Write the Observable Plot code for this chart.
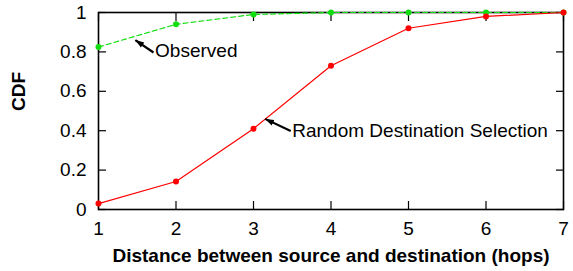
<!DOCTYPE html>
<html>
<head>
<meta charset="utf-8">
<script src="https://cdn.jsdelivr.net/npm/d3@7"></script>
<script src="https://cdn.jsdelivr.net/npm/@observablehq/plot@0.6"></script>
<style>
  html, body { margin: 0; padding: 0; background: #fff; }
  svg { display: block; }
</style>
</head>
<body>
<div id="chart"></div>
<script>
const hops = [1, 2, 3, 4, 5, 6, 7];
const observed = [0.825, 0.94, 0.99, 1.0, 1.0, 1.0, 1.0];
const randomSel = [0.03, 0.142, 0.41, 0.73, 0.92, 0.98, 1.0];
const xTicks = [1, 2, 3, 4, 5, 6, 7];
const yTicks = [0, 0.2, 0.4, 0.6, 0.8, 1];

const labelNames = ["Observed", "Random Destination Selection"];
const labelX = [1.73, 3.5];
const labelY = [0.805, 0.40];
const arrowFromX = [1.71, 3.48];
const arrowFromY = [0.797, 0.398];
const arrowToX = [1.475, 3.15];
const arrowToY = [0.86, 0.46];

const obsData = hops.map((h, i) => ({x: h, y: observed[i]}));
const rndData = hops.map((h, i) => ({x: h, y: randomSel[i]}));
const labels = labelNames.map((t, i) => ({text: t, x: labelX[i], y: labelY[i]}));
const arrows = labelNames.map((t, i) => ({x1: arrowFromX[i], y1: arrowFromY[i], x2: arrowToX[i], y2: arrowToY[i]}));

const green = "#11dd11";
const red = "#ff0000";

function filledHead(color, context) {
  const ns = "http://www.w3.org/2000/svg";
  const doc = (context && context.document) || document;
  const m = doc.createElementNS(ns, "marker");
  m.setAttribute("viewBox", "-10 -5 10 10");
  m.setAttribute("markerWidth", 4);
  m.setAttribute("markerHeight", 4);
  m.setAttribute("orient", "auto");
  m.setAttribute("fill", color);
  m.setAttribute("stroke", "none");
  const p = doc.createElementNS(ns, "path");
  p.setAttribute("d", "M-10,-3.5L0,0L-10,3.5Z");
  m.appendChild(p);
  return m;
}

const fmt = d => String(d);

const chart = Plot.plot({
  width: 573,
  height: 271,
  marginLeft: 98,
  marginRight: 10,
  marginTop: 12,
  marginBottom: 62,
  style: {fontFamily: "'Liberation Sans', Arial, sans-serif", fontSize: "19px", color: "#000", background: "#fff"},
  x: {domain: [1, 7]},
  y: {domain: [0, 1]},
  marks: [
    Plot.axisX({ticks: xTicks, tickFormat: fmt, tickSize: -8, tickPadding: 20, fontSize: 19, label: null, strokeWidth: 1.2}),
    Plot.axisX({ticks: xTicks, anchor: "top", tickSize: -8, text: null, label: null, strokeWidth: 1.2}),
    Plot.axisY({ticks: yTicks, tickFormat: fmt, tickSize: -8, tickPadding: 20, fontSize: 19, label: null, strokeWidth: 1.2}),
    Plot.axisY({ticks: yTicks, anchor: "right", tickSize: -8, text: null, label: null, strokeWidth: 1.2}),
    Plot.text(["Distance between source and destination (hops)"], {frameAnchor: "bottom", dy: 52, fontWeight: "bold", fontSize: 19}),
    Plot.text(["CDF"], {frameAnchor: "left", dx: -80, rotate: -90, fontWeight: "bold", fontSize: 19}),
    Plot.frame({stroke: "#000", strokeWidth: 1.6}),
    Plot.line(obsData, {x: "x", y: "y", stroke: green, strokeWidth: 1.2, strokeDasharray: "5,3"}),
    Plot.dot(obsData, {x: "x", y: "y", fill: green, r: 3}),
    Plot.line(rndData, {x: "x", y: "y", stroke: red, strokeWidth: 1.2}),
    Plot.dot(rndData, {x: "x", y: "y", fill: red, r: 3}),
    Plot.link(arrows, {x1: "x1", y1: "y1", x2: "x2", y2: "y2", stroke: "#000", strokeWidth: 2.2, markerEnd: filledHead}),
    Plot.text(labels, {x: "x", y: "y", text: "text", textAnchor: "start", fontSize: 19, fill: "#000"})
  ]
});
document.getElementById("chart").appendChild(chart);
</script>
</body>
</html>
